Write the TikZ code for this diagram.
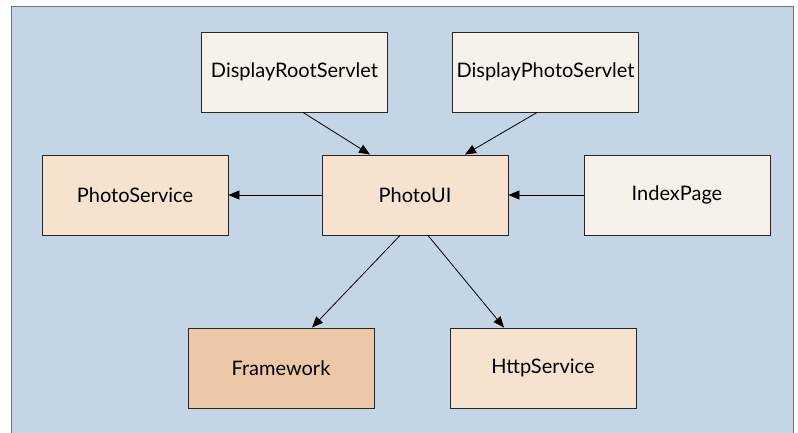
\documentclass[tikz,border=0pt]{standalone}
\usepackage{fontspec}
\setmainfont{Lato}
\usetikzlibrary{arrows.meta}
\definecolor{panelblue}{HTML}{C4D5E6}
\definecolor{clientfill}{HTML}{F6F1EA}
\definecolor{servicefill}{HTML}{F5E2CF}
\definecolor{corefill}{HTML}{EDC8A7}
\begin{document}
\begin{tikzpicture}[x=1pt,y=-1pt,
	box/.style={draw=black!85,line width=0.9pt,minimum width=186pt,minimum height=80pt,inner sep=0pt,font=\fontsize{20}{24}\selectfont},
	dep/.style={-{Triangle[length=11pt,width=9pt]},line width=0.8pt}]
\useasboundingbox (0,0) rectangle (798,433);
\begin{scope}
\clip (0,0) rectangle (798,433);
\draw[draw=black!55,line width=0.9pt,fill=panelblue] (11,6) rectangle (793,445);
\end{scope}
% bundles
\node[box,fill=clientfill] (rootservlet) at (294.5,72) {DisplayRootServlet};
\node[box,fill=clientfill] (photoservlet) at (545.5,72) {DisplayPhotoServlet};
\node[box,fill=servicefill] (photoservice) at (135,195) {PhotoService};
\node[box,fill=servicefill] (photoui) at (415,195) {PhotoUI};
\node[box,fill=clientfill] (indexpage) at (677,195) {IndexPage};
\node[box,fill=corefill] (framework) at (281,368) {Framework};
\node[box,fill=servicefill] (httpservice) at (543,368) {HttpService};
% dependencies
\draw[dep] ([xshift=8.5pt]rootservlet.south) -- ([xshift=-45pt]photoui.north);
\draw[dep] ([xshift=-8.5pt]photoservlet.south) -- ([xshift=50pt]photoui.north);
\draw[dep] (photoui.west) -- (photoservice.east);
\draw[dep] (indexpage.west) -- (photoui.east);
\draw[dep] ([xshift=-15pt]photoui.south) -- ([xshift=31pt]framework.north);
\draw[dep] ([xshift=13pt]photoui.south) -- ([xshift=-39pt]httpservice.north);
\end{tikzpicture}
\end{document}
